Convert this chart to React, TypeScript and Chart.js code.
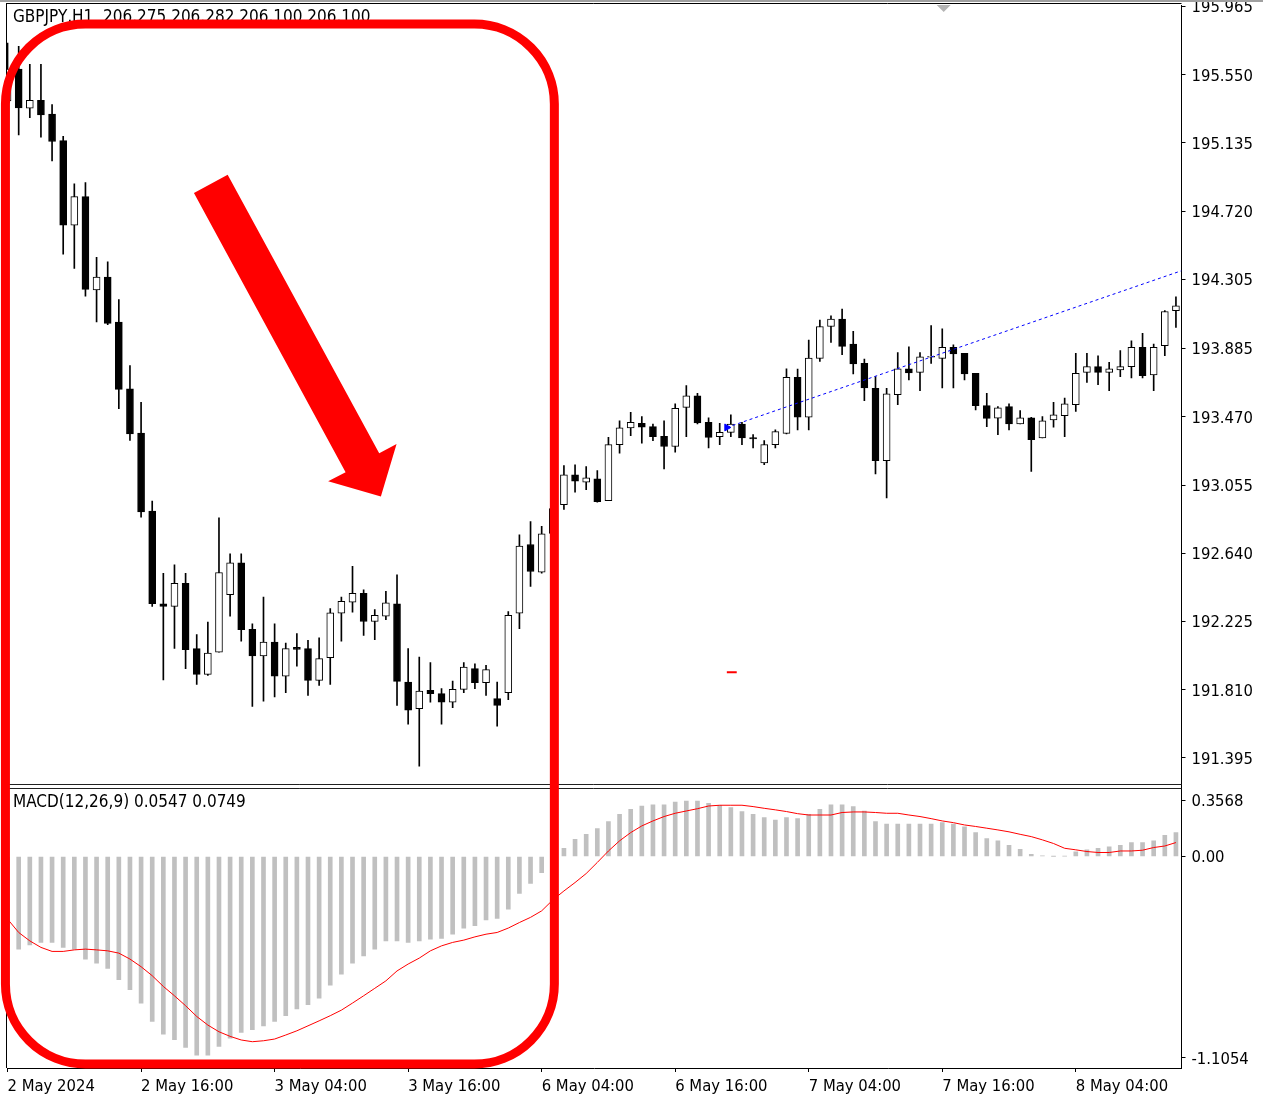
import React, { useEffect, useRef } from 'react';
import { Chart, registerables } from 'chart.js';

Chart.register(...registerables);

// ---------- data (GBPJPY H1) ----------
const opens = [
  195.391, 195.585, 195.347, 195.394, 195.310, 195.149, 194.635, 194.809, 194.241, 194.319,
  194.046, 193.640, 193.371, 192.897, 192.333, 192.317, 192.457, 192.060, 191.903, 192.039,
  192.388, 192.582, 192.177, 192.015, 192.100, 191.893, 192.068, 192.060, 191.867, 192.005,
  192.276, 192.343, 192.397, 192.225, 192.258, 192.332, 191.857, 191.695, 191.806, 191.786,
  191.735, 191.812, 191.938, 191.853, 191.756, 191.792, 192.276, 192.693, 192.525, 192.760,
  192.936, 193.117, 193.072, 193.092, 192.960, 193.301, 193.402, 193.430, 193.410, 193.351,
  193.289, 193.527, 193.598, 193.436, 193.349, 193.375, 193.426, 193.343, 193.190, 193.301,
  193.369, 193.710, 193.467, 193.825, 194.019, 194.064, 193.912, 193.795, 193.643, 193.203,
  193.604, 193.761, 193.740, 193.833, 193.825, 193.892, 193.855, 193.734, 193.538, 193.462,
  193.532, 193.426, 193.463, 193.341, 193.451, 193.477, 193.544, 193.740, 193.775, 193.740,
  193.755, 193.775, 193.892, 193.724, 193.902, 194.115,
];
const highs = [
  195.743, 195.723, 195.613, 195.613, 195.368, 195.175, 194.886, 194.894, 194.440, 194.412,
  194.182, 193.782, 193.558, 192.957, 192.518, 192.570, 192.518, 192.145, 192.221, 192.855,
  192.637, 192.637, 192.211, 192.373, 192.211, 192.094, 192.151, 192.110, 192.126, 192.303,
  192.373, 192.560, 192.418, 192.298, 192.408, 192.509, 192.060, 192.009, 191.975, 191.817,
  191.863, 191.975, 191.968, 191.958, 191.857, 192.286, 192.752, 192.833, 192.803, 192.942,
  193.173, 193.177, 193.167, 193.143, 193.345, 193.446, 193.497, 193.471, 193.426, 193.446,
  193.548, 193.659, 193.612, 193.463, 193.430, 193.481, 193.436, 193.361, 193.325, 193.390,
  193.762, 193.760, 193.937, 194.058, 194.084, 194.125, 193.989, 193.821, 193.714, 193.643,
  193.861, 193.896, 193.861, 194.024, 194.004, 193.908, 193.855, 193.734, 193.612, 193.532,
  193.548, 193.507, 193.467, 193.471, 193.558, 193.584, 193.855, 193.855, 193.841, 193.801,
  193.872, 193.932, 193.977, 193.912, 194.115, 194.200,
];
const lows = [
  195.360, 195.184, 195.289, 195.171, 195.026, 194.459, 194.372, 194.203, 194.046, 194.030,
  193.519, 193.326, 192.860, 192.317, 191.869, 192.061, 191.938, 191.843, 191.897, 192.039,
  192.258, 192.106, 191.709, 191.741, 191.766, 191.792, 191.954, 191.776, 191.837, 191.843,
  192.106, 192.282, 192.140, 192.114, 192.236, 191.715, 191.600, 191.345, 191.735, 191.600,
  191.701, 191.792, 191.817, 191.776, 191.589, 191.750, 192.181, 192.438, 192.519, 192.742,
  192.906, 193.011, 193.027, 192.950, 192.960, 193.248, 193.355, 193.309, 193.325, 193.153,
  193.254, 193.349, 193.426, 193.281, 193.301, 193.349, 193.301, 193.281, 193.179, 193.281,
  193.366, 193.390, 193.390, 193.807, 193.922, 193.847, 193.730, 193.568, 193.123, 192.977,
  193.544, 193.694, 193.629, 193.795, 193.645, 193.645, 193.694, 193.511, 193.410, 193.361,
  193.390, 193.426, 193.138, 193.341, 193.406, 193.349, 193.503, 193.679, 193.665, 193.629,
  193.714, 193.706, 193.706, 193.629, 193.841, 194.013,
];
const closes = [
  195.585, 195.348, 195.394, 195.305, 195.144, 194.635, 194.809, 194.245, 194.319, 194.038,
  193.637, 193.366, 192.891, 192.333, 192.317, 192.457, 192.053, 191.903, 192.033, 192.523,
  192.582, 192.175, 192.015, 192.100, 191.893, 192.060, 192.055, 191.867, 191.999, 192.278,
  192.347, 192.397, 192.225, 192.262, 192.339, 191.861, 191.685, 191.802, 191.786, 191.735,
  191.812, 191.948, 191.853, 191.932, 191.715, 192.262, 192.683, 192.529, 192.758, 192.912,
  193.117, 193.078, 193.098, 192.954, 193.301, 193.402, 193.436, 193.406, 193.349, 193.289,
  193.521, 193.598, 193.433, 193.345, 193.375, 193.426, 193.341, 193.335, 193.301, 193.380,
  193.710, 193.467, 193.827, 194.019, 194.064, 193.898, 193.791, 193.645, 193.203, 193.609,
  193.761, 193.736, 193.835, 193.837, 193.892, 193.852, 193.730, 193.538, 193.460, 193.524,
  193.426, 193.463, 193.331, 193.446, 193.481, 193.548, 193.734, 193.775, 193.740, 193.761,
  193.775, 193.892, 193.720, 193.892, 194.110, 194.145,
];

// MACD main (histogram) and signal line
const macdMain = [
  -0.460, -0.484, -0.462, -0.449, -0.449, -0.475, -0.484, -0.536, -0.557, -0.585,
  -0.644, -0.696, -0.766, -0.862, -0.928, -0.957, -0.998, -1.038, -1.038, -0.992,
  -0.950, -0.919, -0.905, -0.885, -0.862, -0.832, -0.797, -0.775, -0.740, -0.672,
  -0.615, -0.557, -0.519, -0.484, -0.441, -0.441, -0.449, -0.441, -0.432, -0.428,
  -0.406, -0.374, -0.362, -0.331, -0.324, -0.275, -0.193, -0.141, -0.084, -0.031,
  0.043, 0.090, 0.116, 0.146, 0.183, 0.221, 0.247, 0.264, 0.270, 0.270,
  0.285, 0.290, 0.290, 0.278, 0.268, 0.256, 0.235, 0.221, 0.204, 0.191,
  0.204, 0.198, 0.221, 0.247, 0.270, 0.270, 0.261, 0.238, 0.183, 0.169,
  0.169, 0.169, 0.169, 0.169, 0.177, 0.169, 0.155, 0.125, 0.094, 0.082,
  0.059, 0.038, 0.012, 0.004, 0.001, 0.002, 0.024, 0.035, 0.043, 0.050,
  0.059, 0.073, 0.073, 0.082, 0.111, 0.125,
];
const macdSignal = [
  -0.327, -0.397, -0.441, -0.475, -0.496, -0.496, -0.488, -0.484, -0.488, -0.493,
  -0.505, -0.536, -0.576, -0.623, -0.679, -0.728, -0.780, -0.836, -0.881, -0.916,
  -0.940, -0.959, -0.968, -0.963, -0.954, -0.933, -0.911, -0.885, -0.859, -0.832,
  -0.803, -0.766, -0.728, -0.689, -0.650, -0.598, -0.562, -0.531, -0.493, -0.467,
  -0.449, -0.437, -0.420, -0.406, -0.397, -0.374, -0.345, -0.318, -0.284, -0.227,
  -0.180, -0.136, -0.089, -0.031, 0.029, 0.082, 0.125, 0.160, 0.186, 0.209,
  0.226, 0.238, 0.250, 0.264, 0.268, 0.268, 0.268, 0.261, 0.252, 0.244,
  0.235, 0.224, 0.217, 0.217, 0.217, 0.230, 0.233, 0.233, 0.230, 0.226,
  0.226, 0.217, 0.209, 0.198, 0.186, 0.177, 0.165, 0.157, 0.148, 0.139,
  0.129, 0.116, 0.104, 0.087, 0.068, 0.043, 0.035, 0.026, 0.021, 0.021,
  0.029, 0.029, 0.033, 0.047, 0.055, 0.073,
];

// axes
const xTickIndex = [0, 12, 24, 36, 48, 60, 72, 84, 96];
const xTickLabels = [
  '2 May 2024', '2 May 16:00', '3 May 04:00', '3 May 16:00', '6 May 04:00',
  '6 May 16:00', '7 May 04:00', '7 May 16:00', '8 May 04:00',
];
const priceTicks = [195.965, 195.55, 195.135, 194.72, 194.305, 193.885, 193.47, 193.055, 192.64, 192.225, 191.81, 191.395];
const macdTickPos = [0.294, 0, -1.053];
const macdTickLabels = ['0.3568', '0.00', '-1.1054'];

// chart objects drawn by the user
const trendIdx = [64.64, 105.5];
const trendPrice = [193.405, 194.358];
const dashIdx = [64.64, 65.53];
const dashPrice = [191.916, 191.916];
const arrowIdx = [16.75, 19.78, 33.4, 34.96, 33.55, 28.81, 30.38];
const arrowPrice = [194.83, 194.941, 193.248, 193.305, 192.985, 193.078, 193.132];
const boxIdx = [-0.19, 49.14];
const boxTopPrice = 195.858;
const boxBottomMacd = -1.0845;
const shiftMarkIdx = 84.13;

const titleText = 'GBPJPY,H1  206.275 206.282 206.100 206.100';
const macdTitle = 'MACD(12,26,9) 0.0547 0.0749';

const FONT = '"DejaVu Sans Condensed", "Liberation Sans", Arial, sans-serif';

const zeroPad = (s: any) => {
  s.paddingTop = 0;
  s.paddingBottom = 0;
  s.paddingLeft = 0;
  s.paddingRight = 0;
};

const decor = {
  id: 'decor',
  beforeDraw(chart: any) {
    const { ctx } = chart;
    ctx.save();
    ctx.fillStyle = '#ffffff';
    ctx.fillRect(0, 0, chart.width, chart.height);
    ctx.restore();
  },
  afterDraw(chart: any) {
    const { ctx, chartArea: a, scales } = chart;
    const xs = scales.x, ys = scales.y, y2 = scales.y2;
    ctx.save();
    // window top line
    ctx.fillStyle = '#a0a0a0';
    ctx.fillRect(0, 0, chart.width, 2);
    // frame
    ctx.strokeStyle = '#000';
    ctx.lineWidth = 1;
    const hl = (x1: number, y: number, x2: number) => { ctx.beginPath(); ctx.moveTo(x1, y); ctx.lineTo(x2, y); ctx.stroke(); };
    const vl = (x: number, y1: number, y2v: number) => { ctx.beginPath(); ctx.moveTo(x, y1); ctx.lineTo(x, y2v); ctx.stroke(); };
    hl(a.left - 1, 3.5, a.right);
    vl(a.left - 0.5, 3, a.bottom);
    // separator between panes
    const sep = Math.round(ys.bottom);
    ctx.fillStyle = '#ffffff';
    ctx.fillRect(a.left, sep - 2, a.right - a.left - 1, 4);
    ctx.strokeStyle = '#202020';
    hl(a.left - 1, sep - 1.5, a.right);
    hl(a.left - 1, sep + 2.5, a.right);
    // shift marker
    const sx = xs.getPixelForValue(shiftMarkIdx);
    ctx.fillStyle = '#b4b4b4';
    ctx.beginPath();
    ctx.moveTo(sx - 7, 5);
    ctx.lineTo(sx + 7, 5);
    ctx.lineTo(sx, 12);
    ctx.closePath();
    ctx.fill();
    // titles
    ctx.fillStyle = '#000';
    ctx.font = '17px ' + FONT;
    ctx.textBaseline = 'middle';
    ctx.textAlign = 'left';
    ctx.fillText(titleText, 13, 18);
    ctx.fillText(macdTitle, 13, 803);
    // red rounded box
    const bx0 = xs.getPixelForValue(boxIdx[0]);
    const bx1 = xs.getPixelForValue(boxIdx[1]);
    const by0 = ys.getPixelForValue(boxTopPrice);
    const by1 = y2.getPixelForValue(boxBottomMacd);
    const r = 80;
    ctx.strokeStyle = '#ff0000';
    ctx.lineWidth = 9;
    ctx.beginPath();
    ctx.moveTo(bx0 + r, by0);
    ctx.lineTo(bx1 - r, by0);
    ctx.arcTo(bx1, by0, bx1, by0 + r, r);
    ctx.lineTo(bx1, by1 - r);
    ctx.arcTo(bx1, by1, bx1 - r, by1, r);
    ctx.lineTo(bx0 + r, by1);
    ctx.arcTo(bx0, by1, bx0, by1 - r, r);
    ctx.lineTo(bx0, by0 + r);
    ctx.arcTo(bx0, by0, bx0 + r, by0, r);
    ctx.closePath();
    ctx.stroke();
    // red arrow
    ctx.fillStyle = '#ff0000';
    ctx.beginPath();
    arrowIdx.forEach((v, i) => {
      const px = xs.getPixelForValue(v);
      const py = ys.getPixelForValue(arrowPrice[i]);
      if (i === 0) ctx.moveTo(px, py); else ctx.lineTo(px, py);
    });
    ctx.closePath();
    ctx.fill();
    ctx.restore();
  },
};

export default function App() {
  const ref = useRef<HTMLCanvasElement>(null);
  useEffect(() => {
    const idx = opens.map((_, i) => i);
    const bull = idx.map((i) => closes[i] >= opens[i]);
    const tickFont = { family: FONT, size: 16.5 };
    const chart = new Chart(ref.current as HTMLCanvasElement, {
      type: 'bar',
      data: {
        datasets: [
          {
            type: 'line',
            data: trendIdx.map((v, i) => ({ x: v, y: trendPrice[i] })),
            yAxisID: 'y',
            borderColor: '#0000ff',
            borderWidth: 1,
            borderDash: [3, 3],
            pointRadius: [4, 0],
            pointStyle: 'triangle',
            rotation: 90,
            pointBackgroundColor: '#0000ff',
            pointBorderColor: '#0000ff',
            clip: 0,
            order: 0,
          } as any,
          {
            type: 'line',
            data: dashIdx.map((v, i) => ({ x: v, y: dashPrice[i] })),
            yAxisID: 'y',
            borderColor: '#ff0000',
            borderWidth: 2,
            pointRadius: 0,
            clip: 0,
            order: 0,
          } as any,
          {
            type: 'bar',
            data: idx.map((i) => ({ x: i, y: [opens[i], closes[i]] })),
            yAxisID: 'y',
            backgroundColor: bull.map((b) => (b ? '#ffffff' : '#000000')),
            borderColor: '#000000',
            borderWidth: 1,
            borderSkipped: false,
            barThickness: 7,
            grouped: false,
            clip: 0,
            order: 1,
          } as any,
          {
            type: 'bar',
            data: idx.map((i) => ({ x: i, y: [lows[i], highs[i]] })),
            yAxisID: 'y',
            backgroundColor: '#000000',
            borderWidth: 0,
            barThickness: 1,
            grouped: false,
            clip: 0,
            order: 2,
          } as any,
          {
            type: 'line',
            data: idx.map((i) => ({ x: i, y: macdSignal[i] })),
            yAxisID: 'y2',
            borderColor: '#ff0000',
            borderWidth: 1,
            pointRadius: 0,
            tension: 0,
            clip: 0,
            order: 3,
          } as any,
          {
            type: 'bar',
            data: idx.map((i) => ({ x: i, y: macdMain[i] })),
            yAxisID: 'y2',
            backgroundColor: '#c0c0c0',
            borderWidth: 0,
            barThickness: 4,
            grouped: false,
            clip: 0,
            order: 4,
          } as any,
        ],
      },
      options: {
        animation: false,
        responsive: false,
        devicePixelRatio: 1,
        events: [],
        layout: { padding: { left: 7, top: 4, right: 0, bottom: 0 } },
        plugins: { legend: { display: false }, tooltip: { enabled: false } },
        scales: {
          x: {
            type: 'linear',
            position: 'bottom',
            offset: false,
            min: -0.05,
            max: 105.5,
            afterBuildTicks: (s: any) => { s.ticks = xTickIndex.map((v) => ({ value: v })); },
            afterFit: (s: any) => { s.height = 28; zeroPad(s); },
            ticks: {
              autoSkip: false,
              maxRotation: 0,
              minRotation: 0,
              align: 'start',
              padding: 5,
              color: '#000',
              font: tickFont,
              callback: (_v: any, i: number) => xTickLabels[i],
            },
            grid: { display: true, offset: false, drawOnChartArea: false, drawTicks: true, tickLength: 4, color: '#000' },
            border: { display: true, color: '#000', width: 1 },
          } as any,
          y: {
            type: 'linear',
            position: 'right',
            stack: 'panes',
            stackWeight: 782,
            offset: false,
            min: 191.223,
            max: 195.974,
            afterBuildTicks: (s: any) => { s.ticks = priceTicks.map((v) => ({ value: v })); },
            afterFit: (s: any) => { s.width = 81.5; zeroPad(s); },
            ticks: {
              padding: 6,
              labelOffset: 1.5,
              color: '#000',
              font: tickFont,
              callback: (v: any) => Number(v).toFixed(3),
            },
            grid: { display: true, drawOnChartArea: false, drawTicks: true, tickLength: 4, color: '#000' },
            border: { display: true, color: '#000', width: 1 },
          } as any,
          y2: {
            type: 'linear',
            position: 'right',
            stack: 'panes',
            stackWeight: 282,
            offset: false,
            min: -1.1054,
            max: 0.3672,
            afterBuildTicks: (s: any) => { s.ticks = macdTickPos.map((v) => ({ value: v })); },
            afterFit: (s: any) => { s.width = 81.5; zeroPad(s); },
            ticks: {
              padding: 6,
              labelOffset: 1.5,
              color: '#000',
              font: tickFont,
              callback: (_v: any, i: number) => macdTickLabels[i],
            },
            grid: { display: true, drawOnChartArea: false, drawTicks: true, tickLength: 4, color: '#000' },
            border: { display: true, color: '#000', width: 1 },
          } as any,
        },
      },
      plugins: [decor as any],
    } as any);
    return () => chart.destroy();
  }, []);
  return (
    <div style={{ position: 'absolute', left: 0, top: 0, width: 1263, height: 1096, background: '#fff' }}>
      <canvas ref={ref} width={1263} height={1096} style={{ display: 'block', width: 1263, height: 1096 }} />
    </div>
  );
}
